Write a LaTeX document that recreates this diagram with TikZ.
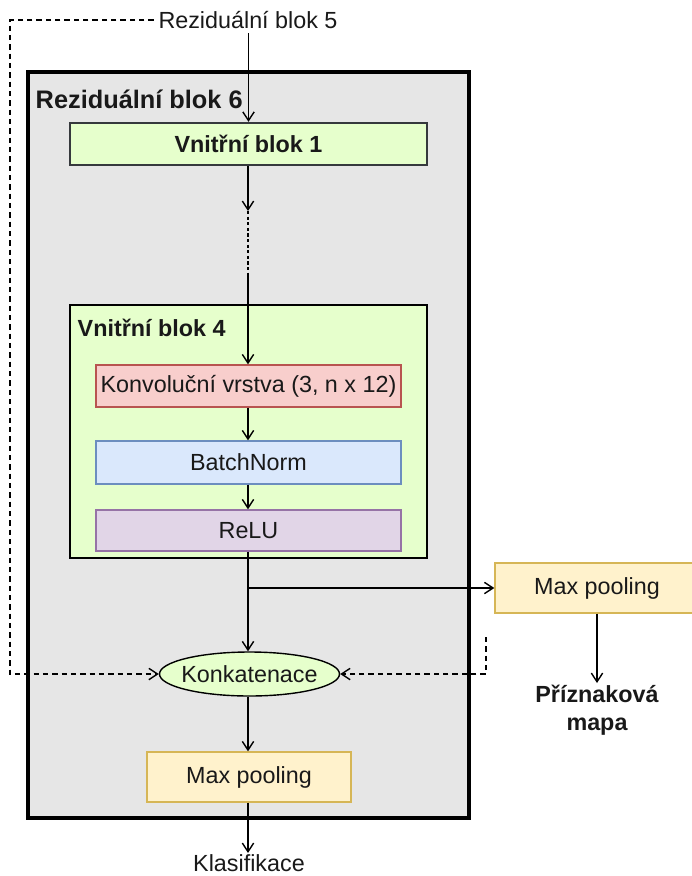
\documentclass[tikz,border=0pt]{standalone}
\usepackage{fontspec}
\setmainfont{Liberation Sans}
\usetikzlibrary{arrows.meta,shapes.geometric}
\newdimen\pxu \pxu=0.75pt
\definecolor{grayfill}{HTML}{E6E6E6}
\definecolor{lgreen}{HTML}{E6FFCC}
\definecolor{dkgray}{HTML}{36393D}
\definecolor{redfill}{HTML}{F8CECC}
\definecolor{redline}{HTML}{B85450}
\definecolor{bluefill}{HTML}{DAE8FC}
\definecolor{blueline}{HTML}{6C8EBF}
\definecolor{purfill}{HTML}{E1D5E7}
\definecolor{purline}{HTML}{9673A6}
\definecolor{yelfill}{HTML}{FFF2CC}
\definecolor{yelline}{HTML}{D6B656}
\tikzset{
  every node/.style={font=\fontsize{17.5}{21}\selectfont, text=black!90},
  box/.style={draw, rectangle, inner sep=0pt},
  arr/.style={-{Straight Barb[length=6.5pt,width=8.5pt]}, line width=1.05pt, black},
  dsh/.style={dash pattern=on 4pt off 3pt, line width=1.05pt, black},
}
\begin{document}
\begin{tikzpicture}[x=0.75pt,y=-0.75pt]
\useasboundingbox (0,0) rectangle (692,876);
% outer residual block
\node[box, fill=grayfill, line width=2.6pt, minimum width=441\pxu, minimum height=746\pxu] (res6) at (248.5,445) {};
\node[anchor=west, font=\fontsize{19}{23}\selectfont\bfseries] (lbl6) at (31,99) {Reziduální blok 6};
\node (in5) at (248,20) {Reziduální blok 5};
% inner block 1
\node[box, fill=lgreen, draw=dkgray, line width=1.8pt, minimum width=357\pxu, minimum height=42\pxu, font=\fontsize{17.5}{21}\selectfont\bfseries] (vb1) at (248.5,144) {Vnitřní blok 1};
% inner block 4
\node[box, fill=lgreen, line width=0.9pt, minimum width=357\pxu, minimum height=253\pxu] (vb4) at (248.5,431.5) {};
\node[anchor=west, font=\fontsize{17.5}{21}\selectfont\bfseries] (lbl4) at (73,328) {Vnitřní blok 4};
\node[box, fill=redfill, draw=redline, line width=1pt, minimum width=305\pxu, minimum height=42\pxu] (conv) at (248.5,386) {Konvoluční vrstva (3, n x 12)};
\node[box, fill=bluefill, draw=blueline, line width=1pt, minimum width=305\pxu, minimum height=43\pxu] (bn) at (248.5,462.5) {BatchNorm};
\node[box, fill=purfill, draw=purline, line width=1pt, minimum width=305\pxu, minimum height=41\pxu] (relu) at (248.5,530.5) {ReLU};
% right max pooling
\node[box, fill=yelfill, draw=yelline, line width=1pt, minimum width=204\pxu, minimum height=50\pxu] (mpR) at (597,588) {Max pooling};
\node[align=center, font=\fontsize{17.5}{21}\selectfont\bfseries, inner sep=1pt, anchor=north] (priz) at (597,683) {Příznaková\\mapa};
% concatenation
\node[ellipse, draw, fill=lgreen, line width=1.05pt, minimum width=180\pxu, minimum height=44\pxu, inner sep=0pt] (konk) at (249.5,674) {};
\node (konkt) at (konk.center) {Konkatenace};
% bottom max pooling
\node[box, fill=yelfill, draw=yelline, line width=1pt, minimum width=204\pxu, minimum height=50\pxu] (mpB) at (249,777) {Max pooling};
\node[anchor=north, inner sep=1pt] (klas) at (249,853) {Klasifikace};
% coordinates
\coordinate (d1) at (248,211);
\coordinate (d2) at (248,276);
\coordinate (br) at (248,588);
\coordinate (rd) at (486,637);
% connectors
\draw[arr] (in5.south -| vb1.north) -- (vb1.north);
\draw[arr] (vb1.south -| d1) -- (d1);
\draw[line width=2.1pt, dash pattern=on 2.4pt off 1.8pt, black] (d1) -- (d2);
\draw[arr] (d2) -- (conv.north -| d2);
\draw[arr] (conv.south -| d2) -- (bn.north -| d2);
\draw[arr] (bn.south -| d2) -- (relu.north -| d2);
\draw[arr] (relu.south -| d2) -- (konk.north -| d2);
\draw[arr] (br) -- (mpR.west);
\draw[arr] (mpR.south) -- (priz.north);
\draw[arr] (konk.south -| d2) -- (mpB.north -| d2);
\draw[arr] (mpB.south -| d2) -- (klas.north -| d2);
\draw[dsh, -{Straight Barb[length=6.5pt,width=8.5pt]}] (in5.west) -- (10,20) |- (konk.west);
\draw[dsh, -{Straight Barb[length=6.5pt,width=8.5pt]}] (rd) |- (konk.east);
\end{tikzpicture}
\end{document}
